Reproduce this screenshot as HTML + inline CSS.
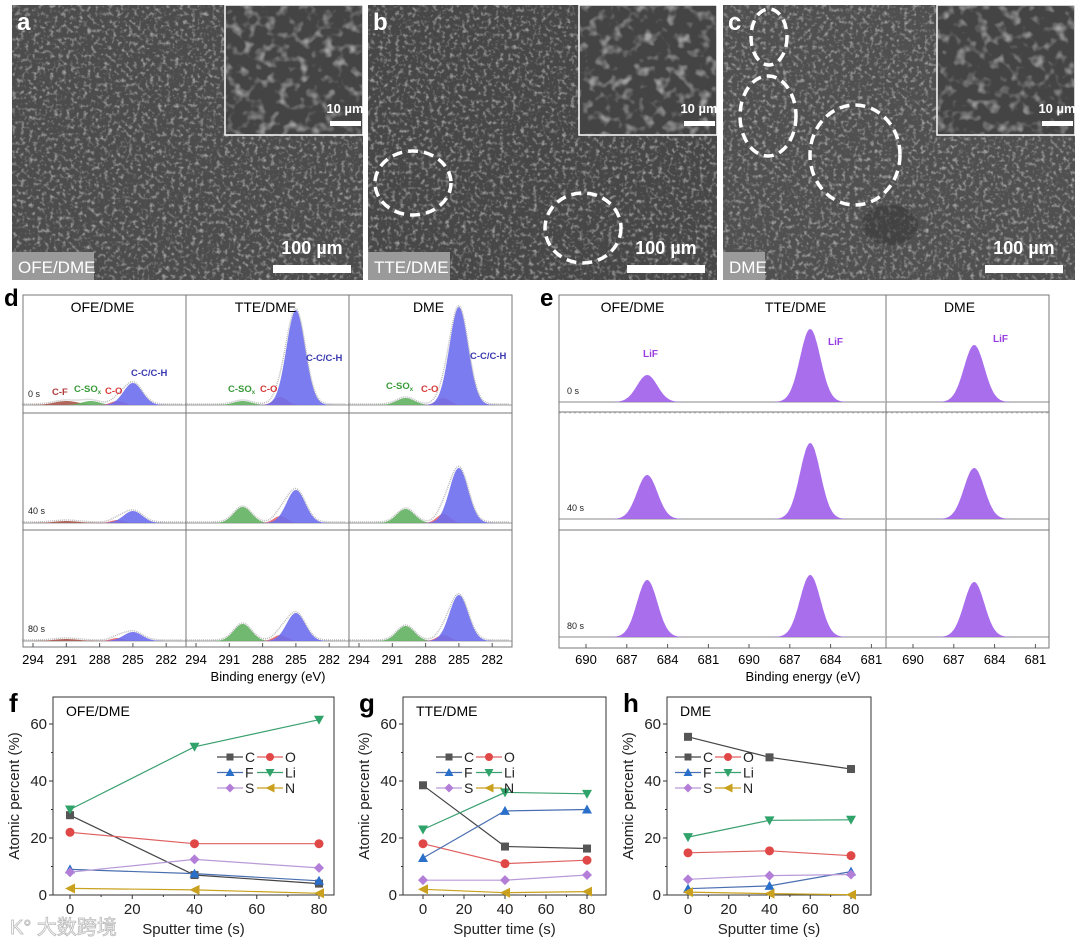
<!DOCTYPE html>
<html><head><meta charset="utf-8"><style>
html,body{margin:0;padding:0;background:#fff;}
svg{display:block;font-family:"Liberation Sans",Arial,sans-serif;}
</style></head><body>
<svg id="fig" width="1080" height="940" viewBox="0 0 1080 940" xmlns="http://www.w3.org/2000/svg">
<defs>
<filter id="mesh" x="0" y="0" width="100%" height="100%">
<feTurbulence type="fractalNoise" baseFrequency="0.24" numOctaves="2" seed="3" result="n"/>
<feColorMatrix in="n" type="matrix" values="0 0 0 0 1  0 0 0 0 1  0 0 0 0 1  3 0 0 0 -1.5"/>
</filter>
<filter id="meshBig" x="0" y="0" width="100%" height="100%">
<feTurbulence type="fractalNoise" baseFrequency="0.09" numOctaves="2" seed="7" result="n"/>
<feColorMatrix in="n" type="matrix" values="0 0 0 0 1  0 0 0 0 1  0 0 0 0 1  3 0 0 0 -1.5"/>
</filter>
</defs>
<g id="sem"></g>
<g id="xpsC"></g>
<g id="xpsF"></g>
<g id="charts"></g>
</svg>
<script>
const NS='http://www.w3.org/2000/svg';
function mk(tag,attrs,parent,text){const e=document.createElementNS(NS,tag);for(const k in attrs)e.setAttribute(k,attrs[k]);if(text!==undefined)e.textContent=text;parent.appendChild(e);return e;}

// ---------- SEM panels ----------
const semNames=['a','b','c'];
const semLabels=['OFE/DME','TTE/DME','DME'];
const semX=[12,368,723];
const semW=[351,349,352];
const semBase=['#4c4c4c','#474747','#505050'];
const sem=document.getElementById('sem');
semNames.forEach((n,i)=>{
  const g=mk('g',{},sem);
  
  
  const x=semX[i],w=semW[i];
  mk('rect',{x:x,y:5,width:w,height:275,fill:semBase[i]},g);
  mk('rect',{x:x,y:5,width:w,height:275,filter:'url(#mesh)',opacity:0.45},g);
  const ix=x+w-138;
  mk('rect',{x:ix,y:5,width:138,height:130,fill:'#444',stroke:'#fff','stroke-width':1.5},g);
  mk('rect',{x:ix+1,y:6,width:136,height:128,filter:'url(#meshBig)',opacity:0.5},g);
  const lt=mk('text',{x:x+5,y:30,fill:'#fff','font-size':24,'font-weight':'bold'},g,n);
  
  
  const st=mk('text',{x:ix+120,y:113,fill:'#fff','font-size':13,'font-weight':'bold','text-anchor':'middle'},g,'10 µm');
  
  
  mk('rect',{x:ix+105,y:121,width:31,height:5,fill:'#fff'},g);
  const bt=mk('text',{x:x+w-51,y:254,fill:'#fff','font-size':18,'font-weight':'bold','text-anchor':'middle'},g,'100 µm');
  
  
  mk('rect',{x:x+w-90,y:265,width:78,height:8,fill:'#fff'},g);
  const lw=semLabels[i].length*10+12;
  mk('rect',{x:x,y:252,width:lw,height:28,fill:'#9a9a9a'},g);
  const et=mk('text',{x:x+6,y:273,fill:'#fff','font-size':17},g,semLabels[i]);
  
  
});
[[413,183,38,32],[583,228,38,35],[769,37,18,28],[768,116,28,40],[855,155,45,50]].forEach(c=>{
  const el=mk('ellipse',{cx:c[0],cy:c[1],rx:c[2],ry:c[3],fill:'none',stroke:'#fff','stroke-width':3.5,'stroke-dasharray':'10 6'},sem);
  
  
});
mk('ellipse',{cx:890,cy:225,rx:28,ry:20,fill:'#333',opacity:0.5},sem);

// ---------- XPS data ----------
const xpsCols=['OFE/DME','TTE/DME','DME'];
const xpsRows=['0 s','40 s','80 s'];
const ccH=[[22,95,98],[12,33,55],[9,28,46]];
const soxH=[[4,4,7],[0,16,14],[0,17,15]];
const coH=[[4,8,7],[3,7,9],[3,6,6]];
const cfH=[[4,0,0],[2,0,0],[2,0,0]];
const cTicks=[294,291,288,285,282];
const lifH=[[27,73,57],[44,76,51],[57,62,55]];
const fTicks=[690,687,684,681];

function gaussPath(xf,base,c,h,s,e0,e1){
  let d='M'+xf(e0).toFixed(1)+','+base;
  for(let e=e0;e>=e1;e-=0.05){d+=' L'+xf(e).toFixed(1)+','+(base-h*Math.exp(-((e-c)*(e-c))/(2*s*s))).toFixed(1);}
  d+=' L'+xf(e1).toFixed(1)+','+base+' Z';return d;
}

// ---------- panel d ----------
const gd=document.getElementById('xpsC');


const dColX=[23,186,349],dW=163,dRowTop=[295,413,530],dBot=647,dBase=[405,523,641];
mk('text',{x:4,y:306,'font-size':24,'font-weight':'bold'},gd,'d');
xpsRows.forEach((r,ri)=>{
  xpsCols.forEach((c,ci)=>{
    const x0=dColX[ci];
    const xf=e=>x0+10+(294-e)*11.1;
    const b=dBase[ri];
    const e0=295,e1=280.4;
    mk('line',{x1:x0,x2:x0+dW,y1:b,y2:b,stroke:'#999','stroke-width':1},gd);
    const comps=[[cfH,291,1.1,'#a8574c','c-f-peak'],[soxH,ci===0?288.8:289.8,0.8,'#62b062','c-sox-peak'],[coH,286.4,0.6,'#e46464','c-o-peak'],[ccH,285,0.85,'#6e6ef0','cc-ch-peak']];
    comps.forEach(cp=>{
      const h=cp[0][ri][ci];if(!h)return;
      const p=mk('path',{d:gaussPath(xf,b,cp[1],h,cp[2],e0,e1),fill:cp[3],opacity:0.9},gd);
      
      
    });
    let d='';
    for(let e=e0;e>=e1;e-=0.1){let y=b;comps.forEach(cp=>{const h=cp[0][ri][ci];y-=h*Math.exp(-((e-cp[1])**2)/(2*cp[2]*cp[2]));});d+=(d?' L':'M')+xf(e).toFixed(1)+','+(y-1).toFixed(1);}
    mk('path',{d:d,fill:'none',stroke:'#bbb','stroke-width':1.5,'stroke-dasharray':'1 1'},gd);
  });
  const rl=mk('text',{x:28,y:dBase[ri]-(ri===0?8:9),'font-size':9,fill:'#222'},gd,r);
  
  
});
mk('rect',{x:23,y:295,width:489,height:352,fill:'none',stroke:'#777','stroke-width':1},gd);
[186,349].forEach(x=>mk('line',{x1:x,x2:x,y1:295,y2:647,stroke:'#777'},gd));
[413,530].forEach(y=>mk('line',{x1:23,x2:512,y1:y,y2:y,stroke:'#777'},gd));
dColX.forEach((x0,ci)=>{
  const t=mk('text',{x:x0+dW/2-2,y:312,'font-size':14,'text-anchor':'middle'},gd,xpsCols[ci]);
  
  
  cTicks.forEach(v=>{
    const x=x0+10+(294-v)*11.1;
    mk('line',{x1:x,x2:x,y1:dBot,y2:dBot-4,stroke:'#555'},gd);
    mk('text',{x:x,y:664,'font-size':13,'text-anchor':'middle'},gd,v);
  });
});
const dx=mk('text',{x:268,y:681,'font-size':13,'text-anchor':'middle'},gd,'Binding energy (eV)');


function plab(g,x,y,txt,col,sub){const t=mk('text',{x:x,y:y,'font-size':9.5,'font-weight':'bold',fill:col},g,txt);if(sub){mk('tspan',{'font-size':6,dy:2},t,sub);}}
plab(gd,52,395,'C-F','#b03a3a');plab(gd,74,392,'C-SO','#3a9a3a','x');plab(gd,105,394,'C-O','#d83a3a');plab(gd,131,376,'C-C/C-H','#3a3ab0');
plab(gd,228,392,'C-SO','#3a9a3a','x');plab(gd,260,392,'C-O','#d83a3a');plab(gd,306,361,'C-C/C-H','#3a3ab0');
plab(gd,386,389,'C-SO','#3a9a3a','x');plab(gd,421,392,'C-O','#d83a3a');plab(gd,470,359,'C-C/C-H','#3a3ab0');

// ---------- panel e ----------
const ge=document.getElementById('xpsF');


const eColX=[559,722,886],eW=163,eBot=648,eBase=[402,519,637];
mk('text',{x:540,y:306,'font-size':24,'font-weight':'bold'},ge,'e');
xpsRows.forEach((r,ri)=>{
  xpsCols.forEach((c,ci)=>{
    const x0=eColX[ci];
    const xf=e=>x0+27+(690-e)*13.6;
    const b=eBase[ri];
    mk('line',{x1:x0,x2:x0+eW,y1:b,y2:b,stroke:'#888','stroke-width':1},ge);
    mk('line',{x1:x0,x2:x0+eW,y1:b+11,y2:b+11,stroke:'#ccc','stroke-width':1,'stroke-dasharray':'2 3'},ge);
    const p=mk('path',{d:gaussPath(xf,b,685.5,lifH[ri][ci],0.75,691.9,679.9),fill:'#a262ea',opacity:0.92},ge);
    
    
  });
  const rl=mk('text',{x:567,y:eBase[ri]-8,'font-size':9,fill:'#222'},ge,r);
  
  
});
mk('rect',{x:559,y:295,width:490,height:353,fill:'none',stroke:'#777'},ge);
mk('line',{x1:886,x2:886,y1:295,y2:648,stroke:'#777'},ge);
[412,530].forEach(y=>mk('line',{x1:559,x2:1049,y1:y,y2:y,stroke:'#777'},ge));
eColX.forEach((x0,ci)=>{
  const t=mk('text',{x:x0+eW/2-8,y:312,'font-size':14,'text-anchor':'middle'},ge,xpsCols[ci]);
  
  
  fTicks.forEach(v=>{
    const x=x0+27+(690-v)*13.6;
    mk('line',{x1:x,x2:x,y1:eBot,y2:eBot-4,stroke:'#555'},ge);
    mk('text',{x:x,y:664,'font-size':13,'text-anchor':'middle'},ge,v);
  });
});
const ex=mk('text',{x:803,y:681,'font-size':13,'text-anchor':'middle'},ge,'Binding energy (eV)');


[[643,357],[828,345],[993,342]].forEach(p=>{const t=mk('text',{x:p[0],y:p[1],'font-size':10,'font-weight':'bold',fill:'#9a3ee0'},ge,'LiF');});

// ---------- line charts f,g,h ----------
const times=[0,40,80];
const xTicks=[0,20,40,60,80];
const yTicks=[0,20,40,60];
const elements=['C','O','F','Li','S','N'];
const fC=[28,7,4],fO=[22,18,18],fF=[9,7.5,5],fLi=[30,52,61.5],fS=[8,12.5,9.5],fN=[2.3,1.8,0.6];
const gC=[38.5,17,16.3],gO=[18,11,12.2],gF=[13,29.5,30],gLi=[23,36,35.5],gS=[5.2,5.2,7],gN=[2,0.8,1.2];
const hC=[55.5,48.3,44.2],hO=[14.8,15.5,13.8],hF=[2.2,3.2,8.2],hLi=[20.3,26.2,26.4],hS=[5.5,6.8,7.2],hN=[1,0.5,0.1];
const colors={C:'#555555',O:'#e04848',F:'#2a6fc9',Li:'#2fa36a',S:'#b27ed8',N:'#c9a11e'};
const lineCols={C:'#444',O:'#e06060',F:'#4a6fb0',Li:'#3aa070',S:'#b89ad8',N:'#c9a11e'};
const chartDefs=[
 {id:'f',title:'OFE/DME',ax0:53,ax1:334,x0:70,x80:319,lx:217,series:[fC,fO,fF,fLi,fS,fN]},
 {id:'g',title:'TTE/DME',ax0:403,ax1:606,x0:423,x80:587,lx:436,series:[gC,gO,gF,gLi,gS,gN]},
 {id:'h',title:'DME',ax0:667,ax1:871,x0:688,x80:851,lx:675,series:[hC,hO,hF,hLi,hS,hN]}
];
const yTop=697,yBot=895;
const yScale=v=>895-v*(171/60);
function marker(g,el,x,y,s){
  const c=colors[el];let m;
  if(el==='C')m=mk('rect',{x:x-s,y:y-s,width:2*s,height:2*s,fill:c},g);
  else if(el==='O')m=mk('circle',{cx:x,cy:y,r:s+0.5,fill:c},g);
  else if(el==='F')m=mk('polygon',{points:`${x},${y-s-1} ${x-s-1},${y+s} ${x+s+1},${y+s}`,fill:c},g);
  else if(el==='Li')m=mk('polygon',{points:`${x},${y+s+1} ${x-s-1},${y-s} ${x+s+1},${y-s}`,fill:c},g);
  else if(el==='S')m=mk('polygon',{points:`${x},${y-s-1} ${x+s+1},${y} ${x},${y+s+1} ${x-s-1},${y}`,fill:c},g);
  else m=mk('polygon',{points:`${x-s-1},${y} ${x+s+1},${y-s-1} ${x+s+1},${y+s+1}`,fill:c},g);
  return m;
}
const charts=document.getElementById('charts');
chartDefs.forEach(cd=>{
  const g=mk('g',{},charts);
  
  
  const xs=v=>cd.x0+v*(cd.x80-cd.x0)/80;
  mk('text',{x:cd.ax0-44,y:712,'font-size':26,'font-weight':'bold'},g,cd.id);
  mk('rect',{x:cd.ax0,y:yTop,width:cd.ax1-cd.ax0,height:yBot-yTop,fill:'none',stroke:'#333','stroke-width':1},g);
  const tt=mk('text',{x:cd.ax0+13,y:716,'font-size':14},g,cd.title);
  
  
  xTicks.forEach(v=>{const x=xs(v);mk('line',{x1:x,x2:x,y1:yBot,y2:yBot+4,stroke:'#333'},g);
    const t=mk('text',{x:x,y:914,'font-size':15,'text-anchor':'middle',fill:'#222'},g,v);
    
    });
  [10,30,50,70].forEach(v=>{const x=xs(v);mk('line',{x1:x,x2:x,y1:yBot,y2:yBot+2,stroke:'#333'},g);});
  yTicks.forEach(v=>{const y=yScale(v);mk('line',{x1:cd.ax0,x2:cd.ax0-4,y1:y,y2:y,stroke:'#333'},g);
    const t=mk('text',{x:cd.ax0-6,y:y+5,'font-size':15,'text-anchor':'end',fill:'#222'},g,v);
    
    });
  [10,30,50].forEach(v=>{const y=yScale(v);mk('line',{x1:cd.ax0,x2:cd.ax0-2,y1:y,y2:y,stroke:'#333'},g);});
  const xt=mk('text',{x:(cd.ax0+cd.ax1)/2,y:934,'font-size':15,'text-anchor':'middle',fill:'#222'},g,'Sputter time (s)');
  
  
  const yt=mk('text',{x:0,y:0,'font-size':15,'text-anchor':'middle',fill:'#222',transform:`translate(${cd.ax0-34},${(yTop+yBot)/2}) rotate(-90)`},g,'Atomic percent (%)');
  
  
  cd.series.forEach((s,si)=>{
    const el=elements[si];
    const pl=mk('polyline',{points:s.map((v,i)=>xs(times[i]).toFixed(1)+','+yScale(v).toFixed(1)).join(' '),fill:'none',stroke:lineCols[el],'stroke-width':1.2},g);
    
    
    s.forEach((v,i)=>{
      const m=marker(g,el,xs(times[i]),yScale(v),4);
      
      
    });
  });
  const lg=mk('g',{},g);
  
  
  const pairs=[['C','O'],['F','Li'],['S','N']];
  pairs.forEach((pr,ri)=>{
    const y=757+ri*15.5;
    pr.forEach((el,k)=>{
      const bx=cd.lx+k*40;
      mk('line',{x1:bx,x2:bx+26,y1:y,y2:y,stroke:lineCols[el],'stroke-width':1.2},lg);
      marker(lg,el,bx+13,y,3.5);
      const t=mk('text',{x:bx+28,y:y+5,'font-size':14,fill:'#222'},lg,el);
      
      
    });
  });
});
const wm=mk('text',{x:10,y:934,'font-size':20,fill:'#fff',stroke:'#bbb','stroke-width':0.8,'font-family':'"Liberation Sans","Noto Sans CJK SC",sans-serif'},charts,'K° 大数跨境');


</script>
</body></html>
